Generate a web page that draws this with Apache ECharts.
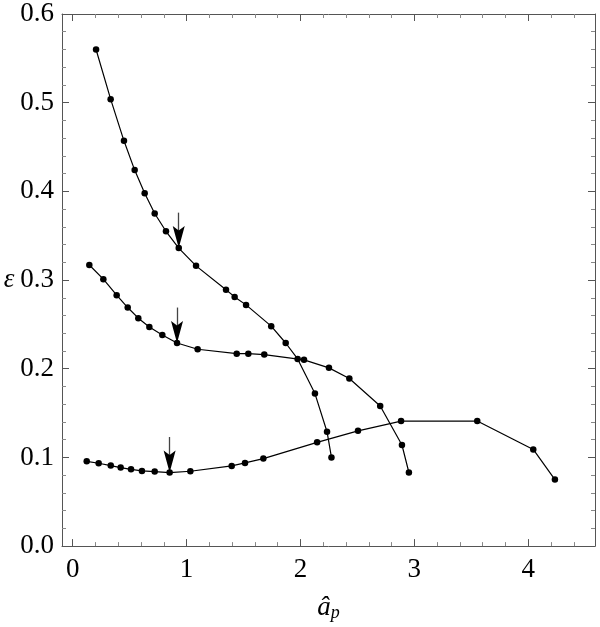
<!DOCTYPE html>
<html>
<head>
<meta charset="utf-8">
<script src="https://cdn.jsdelivr.net/npm/echarts@6/dist/echarts.min.js"></script>
<style>html,body{margin:0;padding:0;background:#fff}#c{width:600px;height:627px}</style>
</head>
<body>
<div id="c"></div>
<script>
// Upper curve
const xA = [0.205,0.333,0.450,0.544,0.632,0.720,0.819,0.931,1.083,1.346,1.422,1.522,1.743,1.870,1.975,2.127,2.233,2.272];
const yA = [0.560,0.504,0.457,0.424,0.398,0.375,0.355,0.336,0.316,0.289,0.281,0.272,0.248,0.229,0.211,0.172,0.129,0.100];
// Middle curve
const xB = [0.146,0.269,0.386,0.483,0.576,0.673,0.787,0.916,1.097,1.440,1.542,1.682,2.031,2.250,2.429,2.700,2.891,2.952];
const yB = [0.317,0.301,0.283,0.269,0.257,0.247,0.238,0.229,0.222,0.217,0.217,0.216,0.210,0.201,0.189,0.158,0.114,0.083];
// Lower curve
const xC = [0.123,0.228,0.334,0.421,0.512,0.608,0.720,0.851,1.033,1.396,1.513,1.674,2.146,2.505,2.883,3.552,4.044,4.234];
const yC = [0.0956,0.0934,0.0908,0.0885,0.0866,0.0848,0.0840,0.0829,0.0844,0.0904,0.0938,0.0987,0.117,0.130,0.141,0.141,0.109,0.075];
// Arrow tips (marked points)
const arrowX = [0.931, 0.916, 0.851];
const arrowY = [0.336, 0.229, 0.083];
const yTicks = [0.0,0.1,0.2,0.3,0.4,0.5,0.6];

const FONT = "'Liberation Serif', 'Times New Roman', Times, serif";
const frameColor = '#555';
const zip = (xs, ys) => xs.map((x, i) => [x, ys[i]]);

const chart = echarts.init(document.getElementById('c'), null, {renderer: 'canvas'});

const xBase = {
  type: 'value', min: -0.094, max: 4.586, splitNumber: 5,
  axisLine: {show: true, onZero: false, lineStyle: {color: frameColor, width: 1}},
  axisTick: {show: true, inside: true, length: 7, lineStyle: {color: frameColor}},
  minorTick: {show: true, splitNumber: 5, length: 4, lineStyle: {color: '#888'}},
  splitLine: {show: false}, minorSplitLine: {show: false}
};
const yBase = {
  type: 'value', min: 0, max: 0.6, interval: 0.1,
  axisLine: {show: true, onZero: false, lineStyle: {color: frameColor, width: 1}},
  axisTick: {show: true, inside: true, length: 7, lineStyle: {color: frameColor}},
  minorTick: {show: true, splitNumber: 5, length: 4, lineStyle: {color: '#888'}},
  splitLine: {show: false}, minorSplitLine: {show: false}
};

const curveStyle = (data) => ({
  type: 'line', data: data, xAxisIndex: 0, yAxisIndex: 0,
  symbol: 'circle', symbolSize: 6.5, showSymbol: true,
  itemStyle: {color: '#000', opacity: 1}, lineStyle: {color: '#000', width: 1.2},
  animation: false, silent: true, z: 3
});

// Arrow shafts
const shaftSeries = {
  type: 'line', data: [], xAxisIndex: 0, yAxisIndex: 0, animation: false, silent: true,
  markLine: {
    silent: true, animation: false,
    symbol: ['none', 'none'],
    lineStyle: {color: '#444', width: 1.3, type: 'solid', opacity: 1},
    label: {show: false},
    emphasis: {disabled: true},
    data: arrowX.map((x, i) => [{coord: [x, arrowY[i] + 0.040]}, {coord: [x, arrowY[i] + 0.012]}])
  },
  z: 4
};
// Arrow heads (tip placed on the marked point)
const headSeries = {
  type: 'scatter', data: zip(arrowX, arrowY), xAxisIndex: 0, yAxisIndex: 0,
  symbol: 'path://M0,0L6,4.5L12,0L6,22Z',
  symbolSize: [12, 22], symbolOffset: [0, '-50%'],
  itemStyle: {color: '#000', opacity: 1}, animation: false, silent: true, z: 5
};

chart.setOption({
  animation: false,
  backgroundColor: '#fff',
  grid: {left: 62, right: 5, top: 14, bottom: 79, containLabel: false},
  xAxis: [
    Object.assign({}, xBase, {
      position: 'bottom',
      name: '{a|â}{p|p}',
      nameLocation: 'middle', nameGap: 42,
      nameTextStyle: {
        rich: {
          a: {fontFamily: FONT, fontStyle: 'italic', fontSize: 27, color: '#000', lineHeight: 28, verticalAlign: 'middle'},
          p: {fontFamily: FONT, fontStyle: 'italic', fontSize: 18, color: '#000', lineHeight: 28, verticalAlign: 'bottom', padding: [16, 0, 0, 0]}
        }
      },
      axisLabel: {
        show: true, margin: 10, color: '#000', fontFamily: FONT, fontSize: 27,
        showMinLabel: false, showMaxLabel: false,
        formatter: v => (Math.abs(v - Math.round(v)) < 1e-9 ? String(Math.round(v)) : '')
      }
    }),
    Object.assign({}, xBase, {position: 'top', axisLabel: {show: false}})
  ],
  yAxis: [
    Object.assign({}, yBase, {
      position: 'left',
      name: 'ε', nameLocation: 'middle', nameRotate: 0, nameGap: 39,
      nameTextStyle: {fontFamily: FONT, fontStyle: 'italic', fontSize: 27, color: '#000'},
      axisLabel: {
        show: true, margin: 8, color: '#000', fontFamily: FONT, fontSize: 27,
        formatter: v => {
          const t = yTicks.find(y => Math.abs(y - v) < 1e-9);
          return t === undefined ? '' : t.toFixed(1);
        }
      }
    }),
    Object.assign({}, yBase, {position: 'right', axisLabel: {show: false}})
  ],
  series: [
    curveStyle(zip(xA, yA)),
    curveStyle(zip(xB, yB)),
    curveStyle(zip(xC, yC)),
    shaftSeries,
    headSeries
  ]
});
</script>
</body>
</html>
